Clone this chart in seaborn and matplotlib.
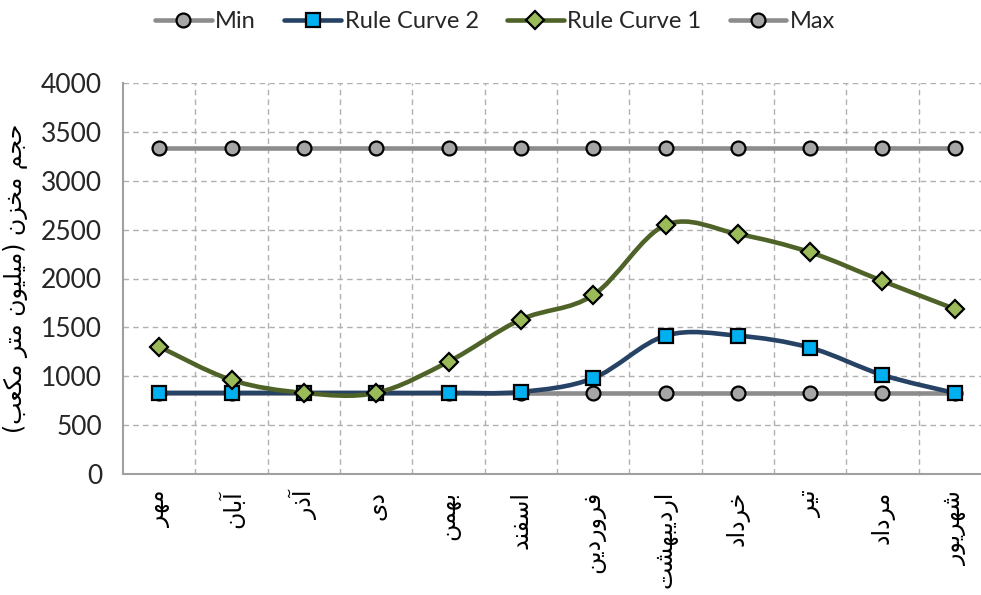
import numpy as np
import pandas as pd
import matplotlib
matplotlib.use("Agg")
import matplotlib.pyplot as plt
from matplotlib.path import Path
from matplotlib.patches import PathPatch
from matplotlib.lines import Line2D
import seaborn as sns

# %%
# data
months = ["مهر", "آبان", "آذر", "دی", "بهمن", "اسفند",
          "فروردین", "اردیبهشت", "خرداد", "تیر", "مرداد", "شهریور"]
min_vol = [830, 830, 830, 830, 830, 830, 830, 830, 830, 830, 830, 830]
rule2 = [830, 830, 830, 830, 830, 840, 980, 1415, 1415, 1292, 1013, 828]
rule1 = [1303, 962, 830, 830, 1149, 1580, 1830, 2547, 2455, 2268, 1974, 1688]
max_vol = [3340, 3340, 3340, 3340, 3340, 3340, 3340, 3340, 3340, 3340, 3340, 3340]
ylabel = "حجم مخزن (میلیون متر مکعب)"
yticks = [0, 500, 1000, 1500, 2000, 2500, 3000, 3500, 4000]

# %%
# small arabic/persian shaper (matplotlib does no shaping / bidi)
FORMS = {
    "ا": ("\uFE8D", "\uFE8E", None, None),
    "آ": ("\uFE81", "\uFE82", None, None),
    "ب": ("\uFE8F", "\uFE90", "\uFE91", "\uFE92"),
    "ت": ("\uFE95", "\uFE96", "\uFE97", "\uFE98"),
    "ج": ("\uFE9D", "\uFE9E", "\uFE9F", "\uFEA0"),
    "ح": ("\uFEA1", "\uFEA2", "\uFEA3", "\uFEA4"),
    "خ": ("\uFEA5", "\uFEA6", "\uFEA7", "\uFEA8"),
    "د": ("\uFEA9", "\uFEAA", None, None),
    "ذ": ("\uFEAB", "\uFEAC", None, None),
    "ر": ("\uFEAD", "\uFEAE", None, None),
    "ز": ("\uFEAF", "\uFEB0", None, None),
    "س": ("\uFEB1", "\uFEB2", "\uFEB3", "\uFEB4"),
    "ش": ("\uFEB5", "\uFEB6", "\uFEB7", "\uFEB8"),
    "ع": ("\uFEC9", "\uFECA", "\uFECB", "\uFECC"),
    "ف": ("\uFED1", "\uFED2", "\uFED3", "\uFED4"),
    "ل": ("\uFEDD", "\uFEDE", "\uFEDF", "\uFEE0"),
    "م": ("\uFEE1", "\uFEE2", "\uFEE3", "\uFEE4"),
    "ن": ("\uFEE5", "\uFEE6", "\uFEE7", "\uFEE8"),
    "ه": ("\uFEE9", "\uFEEA", "\uFEEB", "\uFEEC"),
    "و": ("\uFEED", "\uFEEE", None, None),
    "ی": ("\uFBFC", "\uFBFD", "\uFBFE", "\uFBFF"),
    "ک": ("\uFB8E", "\uFB8F", "\uFB90", "\uFB91"),
}


def shape(text):
    out = []
    for i, c in enumerate(text):
        if c not in FORMS:
            out.append(c)
            continue
        prev = text[i - 1] if i > 0 else ""
        nxt = text[i + 1] if i + 1 < len(text) else ""
        jp = prev in FORMS and FORMS[prev][2] is not None
        jn = FORMS[c][2] is not None and nxt in FORMS
        iso, fin, ini, med = FORMS[c]
        if jp and jn:
            out.append(med)
        elif jp:
            out.append(fin)
        elif jn:
            out.append(ini)
        else:
            out.append(iso)
    vis = "".join(reversed(out))
    return vis.translate(str.maketrans("()", ")("))


def smooth_path(xs, ys):
    # catmull-rom style bezier through the data points (like excel smoothed lines)
    P = np.column_stack([xs, ys]).astype(float)
    n = len(P)
    verts = [P[0]]
    codes = [Path.MOVETO]
    for i in range(n - 1):
        pm = P[i - 1] if i > 0 else P[i]
        p2 = P[i + 2] if i + 2 < n else P[i + 1]
        c1 = P[i] + (P[i + 1] - pm) / 6
        c2 = P[i + 1] - (p2 - P[i]) / 6
        verts += [c1, c2, P[i + 1]]
        codes += [Path.CURVE4] * 3
    return Path(verts, codes)


# %%
sns.set_style("white")
plt.rcParams["font.family"] = ["Lato", "DejaVu Sans"]

x = np.arange(len(months))
df = pd.DataFrame({"x": x, "min": min_vol, "rule2": rule2,
                   "rule1": rule1, "max": max_vol})

fig = plt.figure(figsize=(9.81, 5.95), dpi=100)
ax = fig.add_axes([123 / 981, (595 - 474) / 595, 868 / 981, 391 / 595])

grey_line = "#8c8c8c"
grey_mark = "#a6a6a6"
blue_line = "#264264"
blue_mark = "#00b0f0"
green_line = "#4f6228"
green_mark = "#9bbb59"
lw = 3.3

sns.lineplot(data=df, x="x", y="min", color=grey_line, linewidth=lw,
             marker="o", markersize=10, markerfacecolor=grey_mark,
             markeredgecolor="black", markeredgewidth=1.6, zorder=2, ax=ax)

for col, lc, mc, mk, ms, z in [("rule2", blue_line, blue_mark, "s", 10, 3),
                               ("rule1", green_line, green_mark, "D", 9.5, 4)]:
    ax.add_patch(PathPatch(smooth_path(df.x, df[col]), facecolor="none",
                           edgecolor=lc, linewidth=lw, zorder=z,
                           capstyle="round"))
    ax.plot(df.x, df[col], linestyle="none", marker=mk, markersize=ms,
            markerfacecolor=mc, markeredgecolor="black",
            markeredgewidth=1.6, zorder=z + 0.1)

sns.lineplot(data=df, x="x", y="max", color=grey_line, linewidth=lw,
             marker="o", markersize=10, markerfacecolor=grey_mark,
             markeredgecolor="black", markeredgewidth=1.6, zorder=5, ax=ax)

ax.set_xlim(-0.5, len(months) - 0.5)
ax.set_ylim(0, 4000)
ax.set_yticks(yticks)
ax.set_yticklabels([str(v) for v in yticks])
ax.set_xticks(x)
ax.set_xticklabels([shape(m) for m in months], rotation=90, va="top",
                   ha="center", family=["DejaVu Sans"], fontsize=17,
                   color="black")
ax.set_xticks(np.arange(0.5, len(months) - 0.5, 1), minor=True)

ax.tick_params(axis="x", which="major", length=0, pad=12)
ax.tick_params(axis="x", which="minor", length=6, width=1.2,
               color="#a0a0a0", direction="out")
ax.tick_params(axis="y", length=6, width=1.2, color="#a0a0a0",
               direction="out", labelsize=19, labelcolor="#262626", pad=9)

ax.grid(True, axis="y", which="major", linestyle=(0, (4, 3)),
        color="#b0b0b0", linewidth=1)
ax.grid(True, axis="x", which="minor", linestyle=(0, (4, 3)),
        color="#b0b0b0", linewidth=1)
ax.set_axisbelow(True)

for s in ["top", "right"]:
    ax.spines[s].set_visible(False)
for s in ["left", "bottom"]:
    ax.spines[s].set_color("#a0a0a0")
    ax.spines[s].set_linewidth(1.5)

ax.set_xlabel("")
ax.set_ylabel(shape(ylabel), family=["DejaVu Sans"], fontsize=17,
              color="black")
ax.yaxis.set_label_coords(-0.11, 0.5)

handles = [
    Line2D([], [], color=grey_line, lw=lw, marker="o", markersize=10,
           markerfacecolor=grey_mark, markeredgecolor="black", markeredgewidth=1.6),
    Line2D([], [], color=blue_line, lw=lw, marker="s", markersize=10,
           markerfacecolor=blue_mark, markeredgecolor="black", markeredgewidth=1.6),
    Line2D([], [], color=green_line, lw=lw, marker="D", markersize=9.5,
           markerfacecolor=green_mark, markeredgecolor="black", markeredgewidth=1.6),
    Line2D([], [], color=grey_line, lw=lw, marker="o", markersize=10,
           markerfacecolor=grey_mark, markeredgecolor="black", markeredgewidth=1.6),
]
fig.legend(handles, ["Min", "Rule Curve 2", "Rule Curve 1", "Max"],
           loc="center", bbox_to_anchor=(495 / 981, 1 - 22 / 595), ncol=4,
           frameon=False, fontsize=17, handlelength=2.4, handletextpad=0.15,
           columnspacing=1.2, labelcolor="#262626")

fig.savefig("out.png", dpi=100)
